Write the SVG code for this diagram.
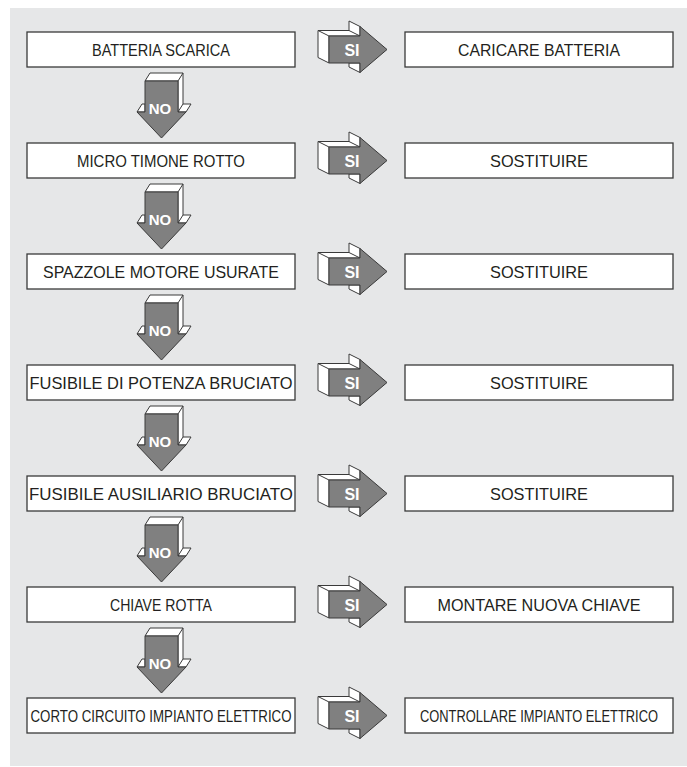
<svg xmlns="http://www.w3.org/2000/svg" width="687" height="767" viewBox="0 0 687 767">
  <style>
    .box { fill: #ffffff; stroke: #3a3a3a; stroke-width: 1.3; }
    .lbl { font-family: "Liberation Sans", Arial, Helvetica, sans-serif; font-size: 17px; fill: #231f20; text-anchor: middle; }
    .face { fill: #ffffff; stroke: #3a3a3a; stroke-width: 1; stroke-linejoin: round; }
    .front { fill: #808080; stroke: #3a3a3a; stroke-width: 1; stroke-linejoin: round; }
    .tag { font-family: "Liberation Sans", Arial, Helvetica, sans-serif; font-weight: bold; fill: #ffffff; text-anchor: middle; }
  </style>
  <defs>
    <!-- block arrow pointing right, y relative to row centre -->
    <g id="arrow-si">
      <path class="face" d="M318,8 V-19 H349 V-28.5 L360,-23 V-13.5 H329 V13.5 Z"/>
      <path class="face" d="M318,-19 L329,-13.5 M349,-19 L360,-13.5"/>
      <path class="face" d="M349,13.5 V17.5 L360,23 V13.5 Z"/>
      <path class="front" d="M329,-13.5 H360 V-23 L387,0 L360,23 V13.5 H329 Z"/>
    </g>
    <!-- block arrow pointing down, y relative to bottom of box above -->
    <g id="arrow-no">
      <path class="face" d="M145,14 L150,6 H183 V37 H191 L186,45 H178 V14 Z"/>
      <path class="face" d="M178,14 L183,6 M178,45 L183,37"/>
      <path class="face" d="M137,45 L142,37 H145 V45 Z"/>
      <path class="front" d="M145,14 H178 V45 H186 L161.5,71 L137,45 H145 Z"/>
    </g>
  </defs>

  <!-- panel -->
  <rect x="10" y="8" width="677" height="758" fill="#e6e7e8"/>

  <!-- connectors -->
  <g id="connectors">
    <use href="#arrow-si" transform="translate(0,49.5)"/>
    <use href="#arrow-si" transform="translate(0,160.5)"/>
    <use href="#arrow-si" transform="translate(0,271.5)"/>
    <use href="#arrow-si" transform="translate(0,382.5)"/>
    <use href="#arrow-si" transform="translate(0,493.5)"/>
    <use href="#arrow-si" transform="translate(0,604.5)"/>
    <use href="#arrow-si" transform="translate(0,715.5)"/>
    <g class="tag" font-size="16">
      <text x="352" y="55.5">SI</text>
      <text x="352" y="166.5">SI</text>
      <text x="352" y="277.5">SI</text>
      <text x="352" y="388.5">SI</text>
      <text x="352" y="499.5">SI</text>
      <text x="352" y="610.5">SI</text>
      <text x="352" y="721.5">SI</text>
    </g>
    <use href="#arrow-no" transform="translate(0,67)"/>
    <use href="#arrow-no" transform="translate(0,178)"/>
    <use href="#arrow-no" transform="translate(0,289)"/>
    <use href="#arrow-no" transform="translate(0,400)"/>
    <use href="#arrow-no" transform="translate(0,511)"/>
    <use href="#arrow-no" transform="translate(0,622)"/>
    <g class="tag" font-size="15">
      <text x="160" y="113.5">NO</text>
      <text x="160" y="224.5">NO</text>
      <text x="160" y="335.5">NO</text>
      <text x="160" y="446.5">NO</text>
      <text x="160" y="557.5">NO</text>
      <text x="160" y="668.5">NO</text>
    </g>
  </g>

  <!-- fault column -->
  <g id="q1"><rect class="box" x="27" y="32" width="268" height="35"/><text class="lbl" x="161" y="56" textLength="138" lengthAdjust="spacingAndGlyphs">BATTERIA SCARICA</text></g>
  <g id="q2"><rect class="box" x="27" y="143" width="268" height="35"/><text class="lbl" x="161" y="167" textLength="168" lengthAdjust="spacingAndGlyphs">MICRO TIMONE ROTTO</text></g>
  <g id="q3"><rect class="box" x="27" y="254" width="268" height="35"/><text class="lbl" x="161" y="278" textLength="236" lengthAdjust="spacingAndGlyphs">SPAZZOLE MOTORE USURATE</text></g>
  <g id="q4"><rect class="box" x="27" y="365" width="268" height="35"/><text class="lbl" x="161" y="389" textLength="263" lengthAdjust="spacingAndGlyphs">FUSIBILE DI POTENZA BRUCIATO</text></g>
  <g id="q5"><rect class="box" x="27" y="476" width="268" height="35"/><text class="lbl" x="161" y="500" textLength="264" lengthAdjust="spacingAndGlyphs">FUSIBILE AUSILIARIO BRUCIATO</text></g>
  <g id="q6"><rect class="box" x="27" y="587" width="268" height="35"/><text class="lbl" x="161" y="611" textLength="102" lengthAdjust="spacingAndGlyphs">CHIAVE ROTTA</text></g>
  <g id="q7"><rect class="box" x="27" y="698" width="268" height="35"/><text class="lbl" x="161" y="722" textLength="261" lengthAdjust="spacingAndGlyphs">CORTO CIRCUITO IMPIANTO ELETTRICO</text></g>

  <!-- remedy column -->
  <g id="a1"><rect class="box" x="405" y="32" width="268" height="35"/><text class="lbl" x="539" y="56" textLength="162" lengthAdjust="spacingAndGlyphs">CARICARE BATTERIA</text></g>
  <g id="a2"><rect class="box" x="405" y="143" width="268" height="35"/><text class="lbl" x="539" y="167" textLength="98" lengthAdjust="spacingAndGlyphs">SOSTITUIRE</text></g>
  <g id="a3"><rect class="box" x="405" y="254" width="268" height="35"/><text class="lbl" x="539" y="278" textLength="98" lengthAdjust="spacingAndGlyphs">SOSTITUIRE</text></g>
  <g id="a4"><rect class="box" x="405" y="365" width="268" height="35"/><text class="lbl" x="539" y="389" textLength="98" lengthAdjust="spacingAndGlyphs">SOSTITUIRE</text></g>
  <g id="a5"><rect class="box" x="405" y="476" width="268" height="35"/><text class="lbl" x="539" y="500" textLength="98" lengthAdjust="spacingAndGlyphs">SOSTITUIRE</text></g>
  <g id="a6"><rect class="box" x="405" y="587" width="268" height="35"/><text class="lbl" x="539" y="611" textLength="203" lengthAdjust="spacingAndGlyphs">MONTARE NUOVA CHIAVE</text></g>
  <g id="a7"><rect class="box" x="405" y="698" width="268" height="35"/><text class="lbl" x="539" y="722" textLength="238" lengthAdjust="spacingAndGlyphs">CONTROLLARE IMPIANTO ELETTRICO</text></g>
</svg>
